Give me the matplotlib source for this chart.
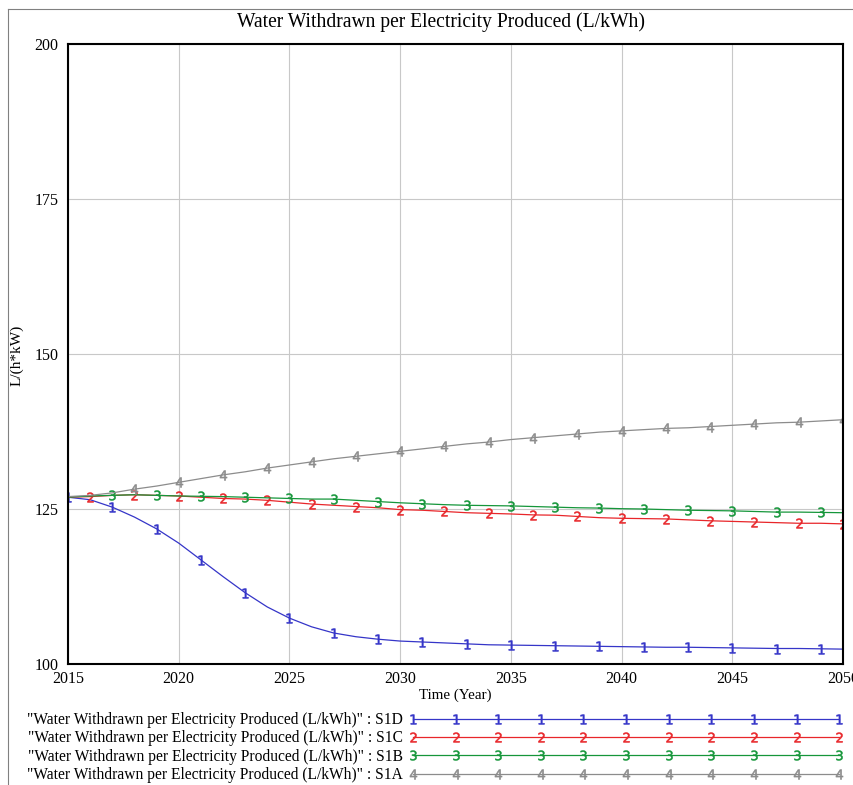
#water_withdrawn_plot.py

import numpy as np
import matplotlib.pyplot as plt
from matplotlib.lines import Line2D

plt.rcParams['font.family'] = ['Liberation Serif', 'DejaVu Serif']

# === Data ===
years = np.arange(2015, 2051)

s1d = [126.9, 126.5, 125.3, 123.7, 121.8, 119.5, 116.8, 114.1, 111.5, 109.2,
       107.4, 106.0, 105.0, 104.4, 104.0, 103.7, 103.55, 103.4, 103.25, 103.1,
       103.05, 103.0, 102.95, 102.9, 102.85, 102.8, 102.75, 102.7, 102.7, 102.65,
       102.6, 102.55, 102.5, 102.5, 102.45, 102.4]
s1c = [126.9, 127.0, 127.2, 127.3, 127.2, 127.1, 126.9, 126.7, 126.6, 126.4,
       126.1, 125.8, 125.6, 125.4, 125.2, 124.9, 124.8, 124.6, 124.4, 124.3,
       124.2, 124.05, 124.0, 123.8, 123.6, 123.5, 123.45, 123.4, 123.25, 123.1,
       123.0, 122.9, 122.8, 122.7, 122.7, 122.6]
s1b = [126.9, 127.1, 127.2, 127.3, 127.2, 127.1, 127.05, 127.0, 126.9, 126.8,
       126.7, 126.6, 126.6, 126.4, 126.2, 126.0, 125.85, 125.7, 125.6, 125.55,
       125.5, 125.4, 125.3, 125.2, 125.15, 125.05, 125.0, 124.9, 124.8, 124.75,
       124.7, 124.6, 124.5, 124.5, 124.45, 124.4]
s1a = [127.0, 127.2, 127.6, 128.2, 128.7, 129.3, 129.9, 130.5, 131.0, 131.6,
       132.1, 132.6, 133.1, 133.5, 133.9, 134.3, 134.7, 135.1, 135.5, 135.8,
       136.2, 136.5, 136.8, 137.1, 137.4, 137.6, 137.8, 138.0, 138.1, 138.3,
       138.5, 138.7, 138.9, 139.0, 139.2, 139.4]

series_names = ['S1D', 'S1C', 'S1B', 'S1A']
series_values = [s1d, s1c, s1b, s1a]
series_colors = ['#3535c8', '#e8262a', '#15963a', '#8c8c8c']
series_marks = ['1', '2', '3', '4']
mark_start = [0, 1, 2, 3]

var_name = '"Water Withdrawn per Electricity Produced (L/kWh)"'

# === Figure ===
W, H = 854, 785
fig = plt.figure(figsize=(W / 100, H / 100), dpi=100)
ax = fig.add_axes([68 / W, 1 - 664 / H, (843 - 68) / W, (664 - 44) / H])

handles = []
for vals, col, mk, st in zip(series_values, series_colors, series_marks, mark_start):
    ax.plot(years, vals, color=col, lw=0.9, marker=f'${mk}$', markersize=7,
            mew=0.4, markevery=(st, 2))
    handles.append(Line2D([], [], color=col, lw=0.9, marker=f'${mk}$',
                          markersize=7, mew=0.4))

ax.set_xlim(2015, 2050)
ax.set_ylim(100, 200)
ax.set_xticks(range(2015, 2051, 5))
ax.set_yticks([100, 125, 150, 175, 200])
ax.grid(True, color='#c8c8c8', lw=0.8)
ax.tick_params(length=0, labelsize=11.5)
ax.tick_params(axis='y', pad=7)
ax.tick_params(axis='x', pad=5)
for sp in ax.spines.values():
    sp.set_linewidth(1.5)
    sp.set_color('black')

ax.set_xlabel('Time (Year)', fontsize=10.8, labelpad=1)
fig.text(17 / W, 1 - 355 / H, 'L/(h*kW)', rotation=90, fontsize=11,
         ha='center', va='center')
fig.text(441 / W, 1 - 22 / H, 'Water Withdrawn per Electricity Produced (L/kWh)',
         fontsize=14.1, ha='center', va='center')

# === Legend below the axes ===
fig.legend(handles, [f'{var_name} : {n}' for n in series_names],
           loc='upper left', bbox_to_anchor=(27 / W, 1 - 712 / H),
           frameon=False, markerfirst=False, handlelength=28.0,
           handletextpad=0.35, numpoints=11, labelspacing=0.15,
           borderpad=0, borderaxespad=0, fontsize=11.2)

# thin outer frame (left and top)
fig.add_artist(Line2D([8 / W, 8 / W], [0, 1 - 9 / H], color='#808080', lw=0.8))
fig.add_artist(Line2D([8 / W, 1], [1 - 9 / H, 1 - 9 / H], color='#808080', lw=0.8))

fig.savefig('out.png', dpi=100)
